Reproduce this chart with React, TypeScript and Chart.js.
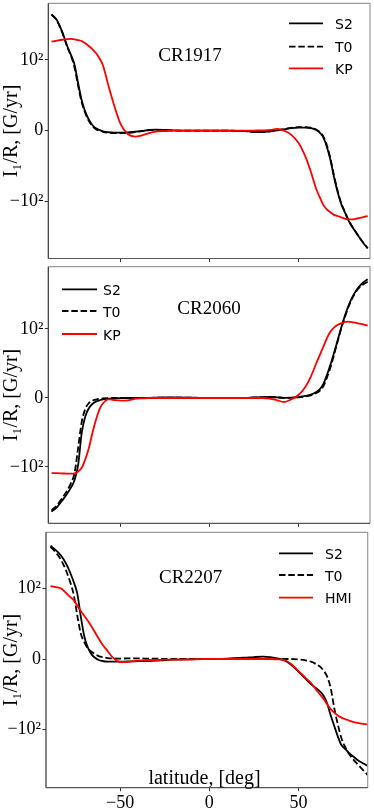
import React, { useEffect, useRef } from "react";
import { Chart, registerables, LinearScale } from "chart.js";

Chart.register(...registerables);

// ---------- data ----------
const LAT = [-89, -86, -83, -80, -78, -76, -74, -72, -70, -68, -66, -64, -62, -60, -57, -54, -50, -46, -42, -38, -34, -30, -25, -20, -10, 0, 10, 20, 25, 30, 34, 38, 42, 46, 50, 54, 57, 60, 62, 64, 66, 68, 70, 72, 74, 76, 78, 80, 83, 86, 89];
const X_TICKS = [-50, 0, 50];
const Y_TICKS = [-100, 0, 100];

const CR1917_S2 = [519, 423, 277, 161, 119, 93, 67, 43, 27, 16, 8, 3.3, 1, -0.9, -2.2, -2.8, -2.8, -2.5, -1.5, -0.3, 1, 1.4, 1, 0.3, 0, 0, 0, -0.5, -1.5, -1.9, -0.8, 0.5, 2, 3.5, 4.2, 4.3, 3.5, 0.9, -2.8, -9.4, -22.6, -41, -65, -86, -107, -145, -195, -243, -324, -428, -545];
const CR1917_T0 = [512, 415, 270, 156, 115, 89, 63, 40, 25, 14, 6.5, 2.2, 0, -1.6, -2.9, -3.4, -3.3, -3, -2, -0.6, 0.7, 1.2, 0.9, 0.2, 0, 0, 0, -0.6, -1.7, -2.1, -1, 0.6, 2.3, 4, 4.9, 5, 4.2, 1.6, -1.8, -8, -20.5, -39, -63, -84, -105, -141, -190, -240, -320, -425, -540];
const CR1917_KP = [193, 200, 207, 212, 213, 210, 204, 197, 183, 165, 147, 128, 106, 92, 64, 38, 9, -4.7, -8.5, -6.6, -3.3, -1.4, -0.5, 0, 0, 0, 0, 0, 0.2, 0.5, 1, 2.4, 0, -6, -17, -37, -58, -82, -94, -113, -133, -148, -162, -169, -177, -185, -191, -191, -185, -177, -169];

const CR2060_S2 = [-524, -446, -348, -265, -213, -162, -97, -51, -27, -15, -8.7, -5.3, -3.4, -1.9, -1, -0.5, -0.2, 0, 0, 0, 0.3, 0.5, 0.7, 0.8, 0.5, 0, 0, 0.3, 0.8, 1.2, 1.4, 1, 0.3, 0.5, 1.4, 2.9, 4.8, 8.7, 12.6, 20, 33, 48, 65, 83, 102, 158, 229, 312, 436, 545, 631];
const CR2060_T0 = [-500, -415, -318, -235, -180, -125, -72, -35, -16, -7.5, -4, -2.2, -1.2, -0.6, -0.2, 0, 0, 0, 0, 0, 0.2, 0.4, 0.5, 0.6, 0.4, 0, 0, 0.2, 0.6, 1, 1.2, 0.8, 0.2, 0.3, 1, 2.2, 3.8, 7, 10.5, 17, 29, 44, 62, 81, 100, 150, 220, 300, 420, 510, 575];
const CR2060_KP = [-126, -126, -127, -128, -128, -127, -118, -103, -89, -73, -51, -32, -16.4, -7.7, -1.9, -2.9, -3.9, -3.4, -1.4, -0.5, 0, 0, 0, 0, 0, 0, 0, 0, 0, 0, -1, -3.4, -5.8, -1.9, 4.3, 16.4, 31, 50, 62, 74, 86.5, 96, 105, 116, 123, 129, 131, 129, 124, 120, 113];

const CR2207_S2 = [469, 400, 326, 238, 178, 127, 93, 60, 31.6, 16, 6.6, 1.9, -1.4, -2.8, -3.8, -3.8, -3.8, -3.3, -3.3, -2.8, -2.8, -2.4, -1.4, -0.9, -0.5, 0, 0.5, 1.9, 2.8, 3.3, 2.8, 0.9, -1.9, -8.5, -18, -28, -36, -41.5, -46, -52, -63, -80, -95, -129, -175, -201, -230, -256, -300, -338, -377];
const CR2207_T0 = [452, 368, 279, 183, 127, 91.5, 62, 36, 23.6, 15, 10.4, 7, 4.2, 2.8, 1.4, 0.9, 0.5, 0.9, 0.9, 0.9, 0.5, 0.5, 0, 0, 0, 0, 0, 0, 0, 0, 0, 0, 0, 0, -0.5, -1.9, -3.8, -7.5, -10.8, -16.5, -25, -41.5, -70, -93, -137, -186, -236, -281, -350, -431, -528];
const CR2207_HMI = [109, 105, 100, 93, 88, 83.5, 75.5, 68, 61, 54, 46, 37.6, 29, 21, 11.3, 1.9, -4.2, -4.2, -2.8, -1.9, -1.4, -1.4, -0.9, -0.9, -0.5, 0, 0, 0, 0, 0, 0, -0.5, -1.4, -7.5, -17, -27, -34, -44, -50, -56.6, -64, -71, -76, -80, -83, -85, -87, -88.7, -90.6, -92, -93];

// ---------- symlog scale (linthresh 100, linscale 1) ----------
const LIN = 100;
const LSC = 1 / (1 - 1 / 10);
const symT = (v: number) => {
  const a = Math.abs(v);
  return a <= LIN ? v * LSC : Math.sign(v) * LIN * (LSC + Math.log10(a / LIN));
};
const symInv = (t: number) => {
  const a = Math.abs(t);
  return a <= LIN * LSC ? t / LSC : Math.sign(t) * LIN * Math.pow(10, a / LIN - LSC);
};

class SymlogScale extends LinearScale {
  static id = "symlog";
  static defaults = LinearScale.defaults;
  _t0: number = 0;
  _t1: number = 1;
  configure() {
    super.configure();
    this._t0 = symT(this.min);
    this._t1 = symT(this.max);
  }
  getPixelForValue(v: any) {
    if (v === null || v === undefined || isNaN(v)) return NaN;
    return this.getPixelForDecimal((symT(v) - this._t0) / (this._t1 - this._t0));
  }
  getValueForPixel(p: number) {
    const d = this.getDecimalForPixel(p);
    return symInv(this._t0 + d * (this._t1 - this._t0));
  }
}
Chart.register(SymlogScale as any);

// ---------- panel configs ----------
const SERIF = '"Liberation Serif", "DejaVu Serif", serif';
const SANS = '"DejaVu Sans", sans-serif';

type Ser = { label: string; data: number[]; color: string; dash: number[] };

const S2 = (d: number[]): Ser => ({ label: "S2", data: d, color: "#000000", dash: [] });
const T0 = (d: number[]): Ser => ({ label: "T0", data: d, color: "#000000", dash: [6.5, 2.8] });
const RED = (label: string, d: number[]): Ser => ({ label, data: d, color: "#ff0000", dash: [] });

const PANELS = [
  {
    name: "CR1917", top: 0, height: 263, padTop: 3.3, padRight: 4, yW: 48.3, xH: 4.5,
    xMin: -90.8, xMax: 90.3, yMin: -785, yMax: 773, showX: false,
    series: [S2(CR1917_S2), T0(CR1917_T0), RED("KP", CR1917_KP)],
    titleX: 190, titleY: 61.3,
    leg: { x0: 289, x1: 323, tx: 335, rows: [23.3, 46.7, 68.3] },
  },
  {
    name: "CR2060", top: 263, height: 265, padTop: 3.7, padRight: 4, yW: 48.3, xH: 4.7,
    xMin: -90.8, xMax: 90.3, yMin: -807, yMax: 1007, showX: false,
    series: [S2(CR2060_S2), T0(CR2060_T0), RED("KP", CR2060_KP)],
    titleX: 209, titleY: 51,
    leg: { x0: 62, x1: 97, tx: 103, rows: [26.3, 48, 71] },
  },
  {
    name: "CR2207", top: 528, height: 281, padTop: 4.3, padRight: 6.3, yW: 46, xH: 21.3,
    xMin: -91.5, xMax: 88.7, yMin: -820, yMax: 764, showX: true,
    series: [S2(CR2207_S2), T0(CR2207_T0), RED("HMI", CR2207_HMI)],
    titleX: 190.7, titleY: 55.3,
    leg: { x0: 279, x1: 313, tx: 325, rows: [25.3, 47, 69.7] },
    xlabel: "latitude, [deg]", xlabelX: 204.5, xlabelY: 255.5,
  },
];

const fmtX = (v: any) => (v < 0 ? "\u2212" + Math.abs(v) : String(v));
const fmtY = (v: any) => (v === 0 ? "0" : v > 0 ? "10\u00b2" : "\u221210\u00b2");

function makeDecor(p: any) {
  return {
    id: "decor_" + p.name,
    afterDraw(chart: any) {
      const { ctx, chartArea: a } = chart;
      ctx.save();
      // frame
      ctx.lineWidth = 1.2;
      ctx.strokeStyle = "#9a9a9a";
      ctx.beginPath();
      ctx.moveTo(a.left, a.top);
      ctx.lineTo(a.right, a.top);
      ctx.lineTo(a.right, a.bottom);
      ctx.stroke();
      ctx.strokeStyle = "#555";
      ctx.beginPath();
      ctx.moveTo(a.right, a.bottom);
      ctx.lineTo(a.left, a.bottom);
      ctx.stroke();
      ctx.strokeStyle = "#333";
      ctx.beginPath();
      ctx.moveTo(a.left, a.top);
      ctx.lineTo(a.left, a.bottom);
      ctx.stroke();
      // panel title
      ctx.fillStyle = "#000";
      ctx.font = "19px " + SERIF;
      ctx.textAlign = "center";
      ctx.textBaseline = "alphabetic";
      ctx.fillText(p.name, p.titleX, p.titleY);
      if (p.xlabel) {
        ctx.font = "20px " + SERIF;
        ctx.fillText(p.xlabel, p.xlabelX, p.xlabelY);
      }
      // legend
      ctx.textAlign = "left";
      ctx.font = "14px " + SANS;
      p.series.forEach((s: Ser, i: number) => {
        const y = p.leg.rows[i];
        ctx.strokeStyle = s.color;
        ctx.lineWidth = 1.8;
        ctx.setLineDash(s.dash);
        ctx.beginPath();
        ctx.moveTo(p.leg.x0, y);
        ctx.lineTo(p.leg.x1, y);
        ctx.stroke();
        ctx.setLineDash([]);
        ctx.fillStyle = "#000";
        ctx.fillText(s.label, p.leg.tx, y + 5.7);
      });
      ctx.restore();
    },
  };
}

function Panel({ p }: { p: any }) {
  const ref = useRef<HTMLCanvasElement | null>(null);
  useEffect(() => {
    if (!ref.current) return;
    const chart = new Chart(ref.current, {
      type: "line",
      data: {
        datasets: p.series.map((s: Ser, i: number) => ({
          label: s.label,
          data: LAT.map((x, k) => ({ x, y: s.data[k] })),
          borderColor: s.color,
          borderWidth: 1.8,
          borderDash: s.dash,
          pointRadius: 0,
          fill: false,
          cubicInterpolationMode: "monotone",
          order: 2 - i,
        })),
      },
      options: {
        responsive: false,
        animation: false,
        events: [],
        devicePixelRatio: 1,
        layout: { padding: { left: 0, right: p.padRight, top: p.padTop, bottom: 0 } },
        plugins: { legend: { display: false }, tooltip: { enabled: false } },
        scales: {
          x: {
            type: "linear",
            min: p.xMin,
            max: p.xMax,
            bounds: "data",
            afterBuildTicks: (s: any) => {
              s.ticks = X_TICKS.map((v) => ({ value: v }));
            },
            afterFit: (s: any) => {
              s.height = p.xH;
              s.paddingLeft = 0;
              s.paddingRight = 0;
            },
            ticks: {
              display: p.showX,
              callback: fmtX,
              color: "#000",
              font: { family: SERIF, size: 18 },
              padding: 1.5,
              maxRotation: 0,
              autoSkip: false,
            },
            grid: { drawOnChartArea: false, drawTicks: true, tickLength: 3.5, color: "#333", lineWidth: 1 },
            border: { display: false },
          },
          y: {
            type: "symlog",
            min: p.yMin,
            max: p.yMax,
            bounds: "data",
            afterBuildTicks: (s: any) => {
              s.ticks = Y_TICKS.map((v) => ({ value: v }));
            },
            afterFit: (s: any) => {
              s.width = p.yW;
              s.paddingTop = 0;
              s.paddingBottom = 0;
            },
            ticks: {
              callback: fmtY,
              color: "#000",
              font: { family: SERIF, size: 18 },
              padding: 1.5,
              autoSkip: false,
            },
            title: {
              display: true,
              text: "I\u2081/R, [G/yr]",
              color: "#000",
              font: { family: SERIF, size: 20 },
              padding: { top: 0, bottom: 0 },
            },
            grid: { drawOnChartArea: false, drawTicks: true, tickLength: 3.5, color: "#333", lineWidth: 1 },
            border: { display: false },
          },
        },
      } as any,
      plugins: [makeDecor(p)],
    });
    return () => chart.destroy();
  }, [p]);
  return (
    <canvas
      ref={ref}
      width={374}
      height={p.height}
      style={{ position: "absolute", left: 0, top: p.top, width: 374, height: p.height }}
    />
  );
}

export default function App() {
  return (
    <div style={{ position: "absolute", left: 0, top: 0, width: 374, height: 809, background: "#fff" }}>
      {PANELS.map((p) => (
        <Panel key={p.name} p={p} />
      ))}
    </div>
  );
}
